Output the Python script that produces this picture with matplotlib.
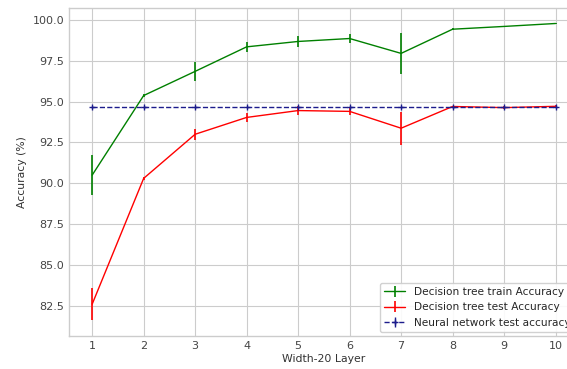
import matplotlib
matplotlib.use("Agg")
import matplotlib.pyplot as plt

layers = [1, 2, 3, 4, 5, 6, 7, 8, 9, 10]

train_acc = [90.5, 95.37, 96.85, 98.35, 98.68, 98.86, 97.95, 99.43, 99.6, 99.78]
train_err = [1.2, 0.1, 0.6, 0.3, 0.35, 0.3, 1.25, 0.05, 0.05, 0.05]

test_acc = [82.6, 90.3, 93.0, 94.03, 94.45, 94.4, 93.37, 94.7, 94.63, 94.71]
test_err = [1.0, 0.1, 0.35, 0.25, 0.25, 0.2, 1.0, 0.05, 0.1, 0.1]

nn_acc = [94.65] * 10
nn_err = [0.05] * 10

plt.style.use("seaborn-v0_8-whitegrid")
plt.rcParams["font.family"] = ["DejaVu Sans"]

fig = plt.figure(figsize=(5.67, 3.69), dpi=100)
ax = fig.add_axes([0.1217, 0.0894, 0.899, 0.889])

ax.errorbar(layers, train_acc, yerr=train_err, color="g", linewidth=1,
            elinewidth=1.2, label="Decision tree train Accuracy")
ax.errorbar(layers, test_acc, yerr=test_err, color="r", linewidth=1,
            elinewidth=1.2, label="Decision tree test Accuracy")
ax.errorbar(layers, nn_acc, yerr=nn_err, color="#1c1c8c", linestyle="--",
            marker="+", markersize=5, linewidth=1,
            label="Neural network test accuracy")

ax.set_xlim(0.55, 10.45)
ax.set_ylim(80.65, 100.73)
ax.set_xticks(layers)
ax.set_yticks([82.5, 85.0, 87.5, 90.0, 92.5, 95.0, 97.5, 100.0])
ax.tick_params(labelsize=8, colors="#444444")
ax.set_xlabel("Width-20 Layer", fontsize=7.8, color="#333333", labelpad=2)
ax.set_ylabel("Accuracy (%)", fontsize=7.8, color="#333333")

ax.legend(loc="lower right", fontsize=7.6, frameon=True, framealpha=0.9,
          borderaxespad=0.4)

plt.savefig("out.png", dpi=100)
plt.close()
